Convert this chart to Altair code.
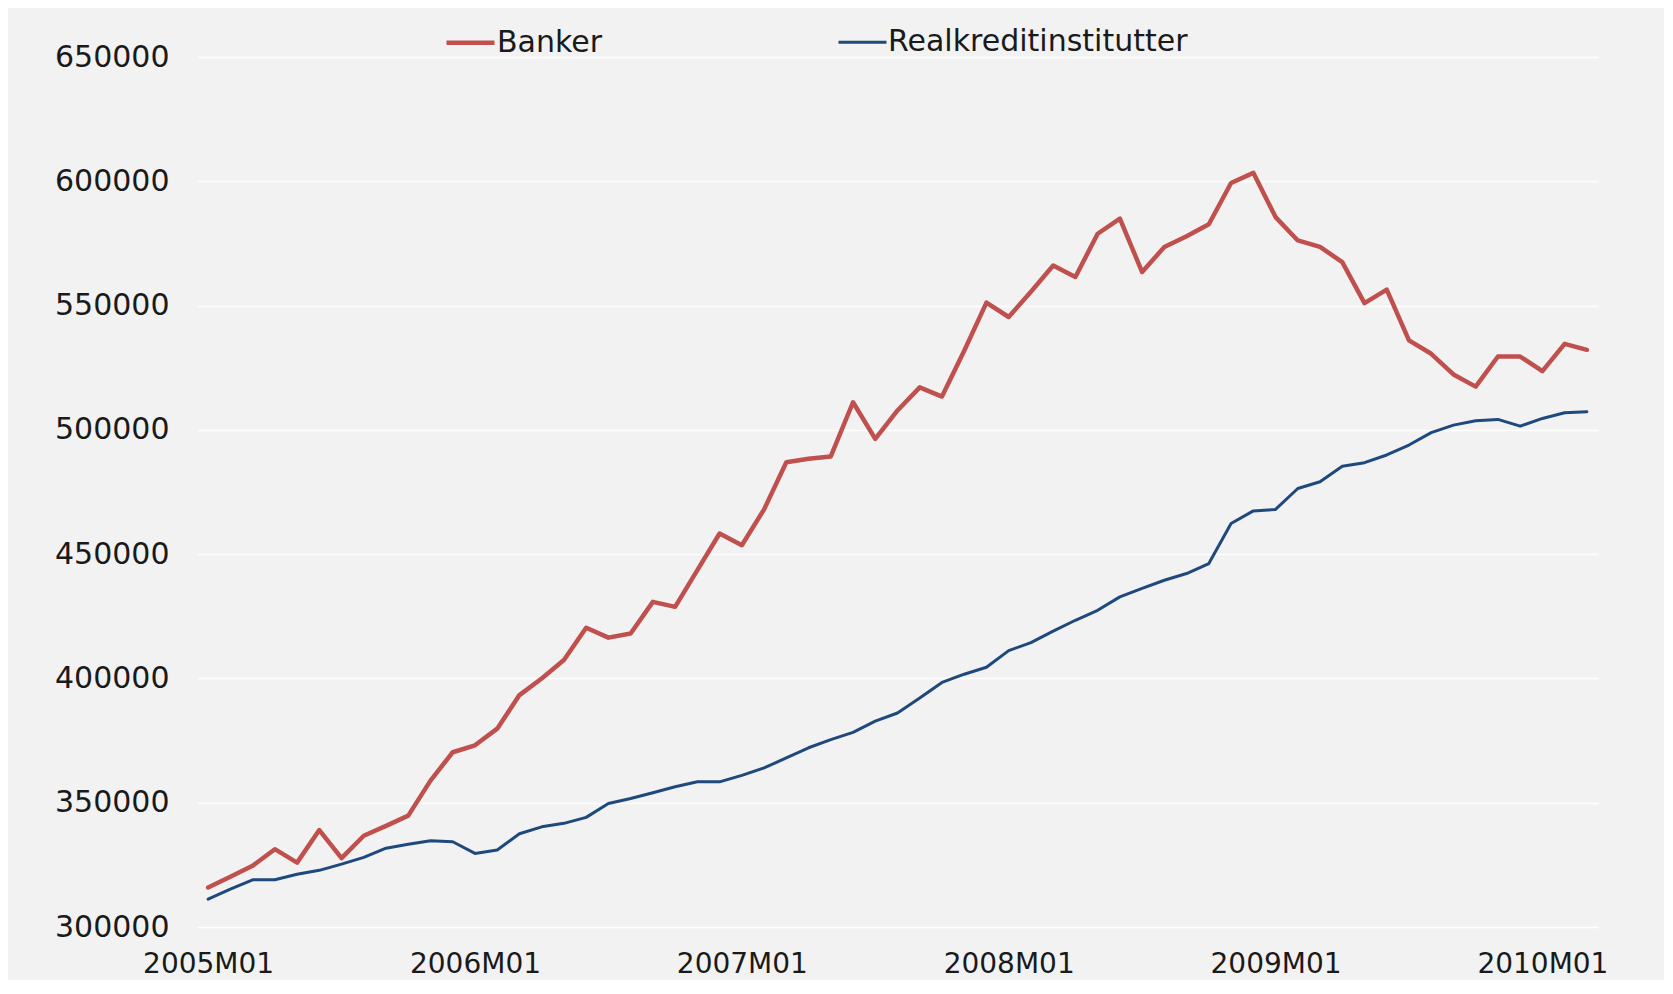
import altair as alt
import pandas as pd

# Monthly categories 2005M01 .. 2010M03
months = [f"{y}M{m:02d}" for y in range(2005, 2011) for m in range(1, 13)][:63]

banker = [
    315900, 320200, 324600, 331300, 325900, 339000, 327700, 336700, 340700, 344800,
    358900, 370300, 373100, 379800, 393300, 400000, 407400, 420400, 416400, 418100,
    430800, 428800, 443600, 458300, 453600, 468000, 487000, 488400, 489300, 511100,
    496400, 507800, 517100, 513400, 531800, 551200, 545400, 555600, 566100, 561500,
    578900, 585000, 563500, 573600, 577900, 582700, 599300, 603400, 585600, 576200,
    573600, 567500, 551000, 556400, 536000, 530600, 522300, 517400, 529500, 529500,
    523600, 534600, 532200,
]

realkredit = [
    311200, 315200, 319000, 319000, 321200, 322800, 325300, 328000, 331700, 333300,
    334700, 334300, 329600, 331000, 337500, 340300, 341700, 344100, 349700, 351700,
    354000, 356400, 358400, 358400, 361000, 364000, 368000, 372100, 375400, 378300,
    382800, 386100, 392100, 398400, 401700, 404500, 411200, 414400, 419000, 423400,
    427400, 432800, 436200, 439500, 442200, 446200, 462300, 467400, 468000, 476400,
    479100, 485400, 486800, 489900, 493900, 498900, 501900, 503700, 504200, 501500,
    504600, 506900, 507300,
]

series_names = ["Banker", "Realkreditinstitutter"]
series_colors = ["#C0504D", "#1F497D"]
series_widths = [4.5, 3]
x_tick_labels = ["2005M01", "2006M01", "2007M01", "2008M01", "2009M01", "2010M01"]
y_tick_values = [300000, 350000, 400000, 450000, 500000, 550000, 600000, 650000]

df = pd.DataFrame({
    "month": months + months,
    "value": banker + realkredit,
    "series": [series_names[0]] * len(months) + [series_names[1]] * len(months),
})

FONT = "DejaVu Sans"

chart = alt.Chart(df).mark_line(strokeJoin="round", strokeCap="round").encode(
    x=alt.X(
        "month:O",
        sort=months,
        scale=alt.Scale(padding=0.5),
        axis=alt.Axis(
            values=x_tick_labels, title=None, labelAngle=0, ticks=False,
            domain=False, grid=False, labelPadding=23, labelFontSize=28,
            labelFont=FONT, labelColor="#1a1a1a",
        ),
    ),
    y=alt.Y(
        "value:Q",
        scale=alt.Scale(domain=[300000, 650000], nice=False, zero=False),
        axis=alt.Axis(
            values=y_tick_values, format="d", title=None, ticks=False,
            domain=False, grid=True, gridColor="#ffffff", gridWidth=1.5,
            labelPadding=28, labelFontSize=30, labelFont=FONT,
            labelColor="#1a1a1a",
        ),
    ),
    color=alt.Color(
        "series:N",
        scale=alt.Scale(domain=series_names, range=series_colors),
        legend=alt.Legend(
            title=None, orient="none", legendX=247, legendY=-41,
            direction="horizontal", symbolType="stroke", symbolSize=2304,
            symbolStrokeWidth=4, labelFontSize=30, labelFont=FONT,
            labelColor="#1a1a1a", labelOffset=0, columnPadding=229,
            labelLimit=0,
        ),
    ),
    strokeWidth=alt.StrokeWidth(
        "series:N",
        scale=alt.Scale(domain=series_names, range=series_widths),
        legend=None,
    ),
).properties(
    width=1401,
    height=870,
    padding={"left": 189, "top": 49, "right": 66, "bottom": 53},
    autosize=alt.AutoSizeParams(type="none"),
    background="#f2f2f2",
).configure_view(stroke=None)

chart.save("out.html", embed_options={"renderer": "svg", "actions": False})
